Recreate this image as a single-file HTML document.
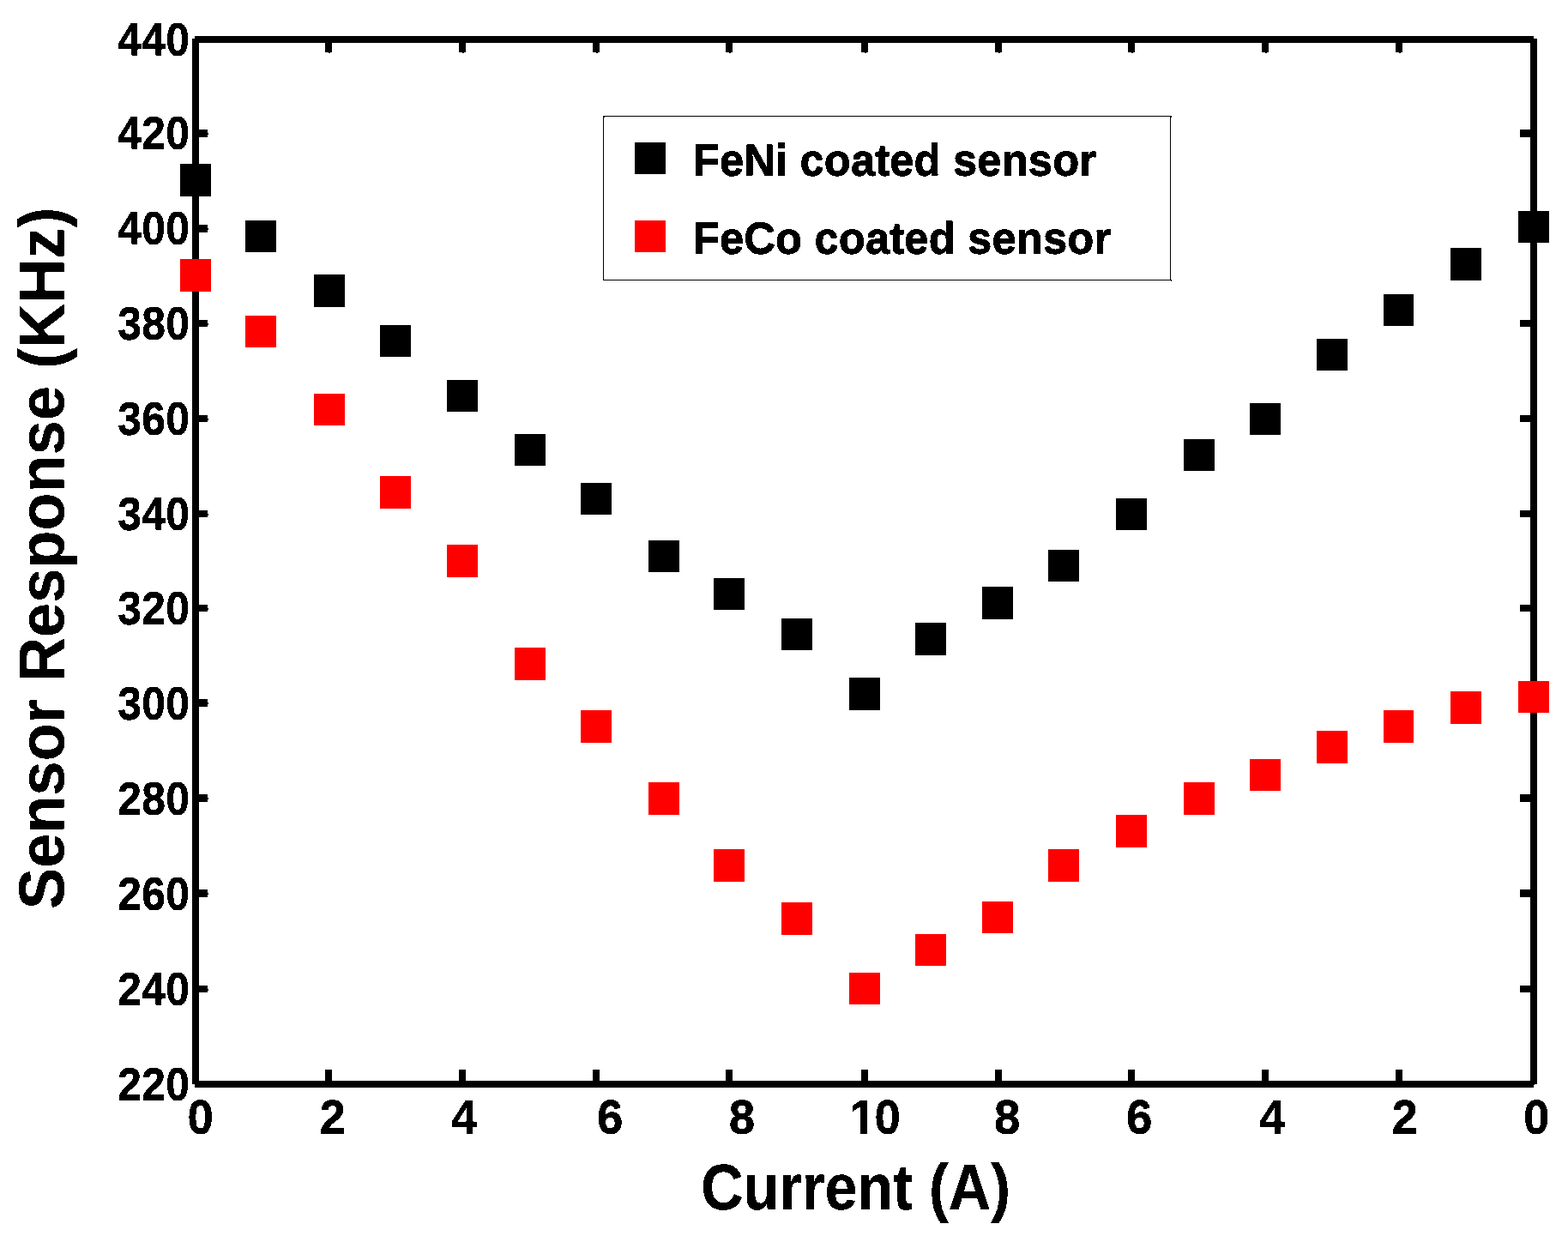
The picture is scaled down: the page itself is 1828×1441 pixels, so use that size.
<!DOCTYPE html>
<html lang="en"><head><meta charset="utf-8">
<title>Sensor Response vs Current</title>
<style>
html,body{margin:0;padding:0;background:#fff;}
body{width:1828px;height:1441px;}
svg{display:block;}
text{font-family:"Liberation Sans",sans-serif;font-weight:bold;font-size:1000px;fill:#000;stroke:#000;stroke-linejoin:miter;font-kerning:none;text-rendering:geometricPrecision;}
</style></head><body>
<svg width="1828" height="1441" viewBox="0 0 1828 1441">
<rect x="0" y="0" width="1828" height="1441" fill="#fff"/>
<defs>
<filter id="bilevel" filterUnits="userSpaceOnUse" x="0" y="0" width="1828" height="1441" color-interpolation-filters="sRGB"><feComponentTransfer><feFuncA type="discrete" tableValues="0 1"/></feComponentTransfer></filter>
<filter id="bilevelv" filterUnits="userSpaceOnUse" x="0" y="0" width="1828" height="1441" color-interpolation-filters="sRGB"><feOffset in="SourceGraphic" dy="1" result="o"/><feMerge result="m"><feMergeNode in="SourceGraphic"/><feMergeNode in="o"/></feMerge><feComponentTransfer><feFuncA type="discrete" tableValues="0 1"/></feComponentTransfer></filter>
</defs>
<g fill="#000" shape-rendering="crispEdges">
<rect x="224" y="45" width="8" height="1219"/>
<rect x="1784" y="45" width="8" height="1219"/>
<rect x="227" y="42" width="1561" height="8"/>
<rect x="227" y="1260" width="1561" height="8"/>
<rect x="1788" y="1264" width="1" height="1"/>
<rect x="379" y="50" width="8" height="11"/>
<rect x="383" y="61" width="2" height="1"/>
<rect x="379" y="1247" width="8" height="13"/>
<rect x="535" y="50" width="8" height="11"/>
<rect x="539" y="61" width="2" height="1"/>
<rect x="535" y="1247" width="8" height="13"/>
<rect x="691" y="50" width="8" height="11"/>
<rect x="695" y="61" width="2" height="1"/>
<rect x="691" y="1247" width="8" height="13"/>
<rect x="846" y="50" width="8" height="11"/>
<rect x="850" y="61" width="2" height="1"/>
<rect x="846" y="1247" width="8" height="13"/>
<rect x="1004" y="50" width="8" height="11"/>
<rect x="1008" y="61" width="2" height="1"/>
<rect x="1004" y="1247" width="8" height="13"/>
<rect x="1160" y="50" width="8" height="11"/>
<rect x="1164" y="61" width="2" height="1"/>
<rect x="1160" y="1247" width="8" height="13"/>
<rect x="1315" y="50" width="8" height="11"/>
<rect x="1319" y="61" width="2" height="1"/>
<rect x="1315" y="1247" width="8" height="13"/>
<rect x="1471" y="50" width="8" height="11"/>
<rect x="1475" y="61" width="2" height="1"/>
<rect x="1471" y="1247" width="8" height="13"/>
<rect x="1627" y="50" width="8" height="11"/>
<rect x="1631" y="61" width="2" height="1"/>
<rect x="1627" y="1247" width="8" height="13"/>
<rect x="232" y="151" width="10" height="9"/>
<rect x="242" y="155" width="1" height="2"/>
<rect x="1772" y="151" width="12" height="9"/>
<rect x="232" y="262" width="10" height="9"/>
<rect x="242" y="266" width="1" height="2"/>
<rect x="1772" y="262" width="12" height="9"/>
<rect x="232" y="373" width="10" height="8"/>
<rect x="242" y="377" width="1" height="2"/>
<rect x="1772" y="373" width="12" height="8"/>
<rect x="232" y="484" width="10" height="8"/>
<rect x="242" y="488" width="1" height="2"/>
<rect x="1772" y="484" width="12" height="8"/>
<rect x="232" y="595" width="10" height="8"/>
<rect x="242" y="599" width="1" height="2"/>
<rect x="1772" y="595" width="12" height="8"/>
<rect x="232" y="705" width="10" height="8"/>
<rect x="242" y="709" width="1" height="2"/>
<rect x="1772" y="705" width="12" height="8"/>
<rect x="232" y="815" width="10" height="9"/>
<rect x="242" y="819" width="1" height="2"/>
<rect x="1772" y="815" width="12" height="9"/>
<rect x="232" y="926" width="10" height="9"/>
<rect x="242" y="930" width="1" height="2"/>
<rect x="1772" y="926" width="12" height="9"/>
<rect x="232" y="1037" width="10" height="9"/>
<rect x="242" y="1041" width="1" height="2"/>
<rect x="1772" y="1037" width="12" height="9"/>
<rect x="232" y="1149" width="10" height="8"/>
<rect x="242" y="1153" width="1" height="2"/>
<rect x="1772" y="1149" width="12" height="8"/>
</g>
<g fill="#000" shape-rendering="crispEdges">
<rect x="210" y="191" width="36" height="38"/>
<rect x="286" y="257" width="36" height="37"/>
<rect x="366" y="320" width="36" height="38"/>
<rect x="443" y="379" width="36" height="37"/>
<rect x="521" y="443" width="36" height="37"/>
<rect x="600" y="506" width="36" height="37"/>
<rect x="677" y="563" width="36" height="37"/>
<rect x="756" y="630" width="36" height="37"/>
<rect x="832" y="674" width="36" height="37"/>
<rect x="911" y="721" width="36" height="37"/>
<rect x="990" y="790" width="36" height="38"/>
<rect x="1067" y="726" width="36" height="38"/>
<rect x="1145" y="684" width="36" height="38"/>
<rect x="1222" y="641" width="36" height="37"/>
<rect x="1301" y="581" width="36" height="37"/>
<rect x="1380" y="512" width="36" height="37"/>
<rect x="1457" y="470" width="36" height="37"/>
<rect x="1535" y="395" width="36" height="37"/>
<rect x="1613" y="343" width="35" height="37"/>
<rect x="1691" y="289" width="36" height="38"/>
<rect x="1770" y="246" width="36" height="37"/>
</g>
<g fill="#ff0000" shape-rendering="crispEdges">
<rect x="210" y="302" width="36" height="38"/>
<rect x="286" y="368" width="36" height="37"/>
<rect x="366" y="459" width="36" height="37"/>
<rect x="443" y="555" width="36" height="38"/>
<rect x="521" y="635" width="36" height="38"/>
<rect x="600" y="755" width="36" height="38"/>
<rect x="677" y="828" width="36" height="38"/>
<rect x="756" y="912" width="36" height="38"/>
<rect x="832" y="990" width="36" height="38"/>
<rect x="911" y="1052" width="36" height="38"/>
<rect x="990" y="1134" width="36" height="37"/>
<rect x="1067" y="1089" width="36" height="37"/>
<rect x="1145" y="1051" width="36" height="37"/>
<rect x="1222" y="990" width="36" height="38"/>
<rect x="1301" y="950" width="36" height="38"/>
<rect x="1380" y="912" width="36" height="38"/>
<rect x="1457" y="885" width="36" height="37"/>
<rect x="1535" y="852" width="36" height="38"/>
<rect x="1613" y="828" width="35" height="38"/>
<rect x="1691" y="806" width="36" height="38"/>
<rect x="1770" y="794" width="36" height="37"/>
</g>
<rect x="703.5" y="135.5" width="661" height="191" fill="#fff" stroke="#000" stroke-width="1" shape-rendering="crispEdges"/>
<g fill="#000" shape-rendering="crispEdges"><rect x="704" y="136" width="1" height="1"/><rect x="1365" y="135" width="1" height="2"/><rect x="1365" y="326" width="1" height="2"/></g>
<rect x="740" y="166" width="36" height="37" fill="#000" shape-rendering="crispEdges"/>
<rect x="740" y="257" width="36" height="37" fill="#ff0000" shape-rendering="crispEdges"/>
<g filter="url(#bilevelv)">
<text transform="matrix(0.05099 0 0 0.05189 807.739 203.850)" stroke-width="5.832">FeNi coated sensor</text>
<text transform="matrix(0.05101 0 0 0.05189 807.738 294.850)" stroke-width="5.831">FeCo coated sensor</text>
<text transform="matrix(0.05020 0 0 0.05378 137.300 64.000)" stroke="none">440</text>
<text transform="matrix(0.05020 0 0 0.05378 137.300 173.000)" stroke="none">420</text>
<text transform="matrix(0.05020 0 0 0.05378 137.300 284.000)" stroke="none">400</text>
<text transform="matrix(0.05020 0 0 0.05378 137.300 395.000)" stroke="none">380</text>
<text transform="matrix(0.05020 0 0 0.05378 137.300 506.000)" stroke="none">360</text>
<text transform="matrix(0.05020 0 0 0.05378 137.300 617.000)" stroke="none">340</text>
<text transform="matrix(0.05020 0 0 0.05378 137.300 727.000)" stroke="none">320</text>
<text transform="matrix(0.05020 0 0 0.05378 137.300 838.000)" stroke="none">300</text>
<text transform="matrix(0.05020 0 0 0.05378 137.300 949.000)" stroke="none">280</text>
<text transform="matrix(0.05020 0 0 0.05378 137.300 1060.000)" stroke="none">260</text>
<text transform="matrix(0.05020 0 0 0.05378 137.300 1171.000)" stroke="none">240</text>
<text transform="matrix(0.05020 0 0 0.05378 137.300 1282.000)" stroke="none">220</text>
<text transform="matrix(0.05430 0 0 0.05523 218.540 1321.000)" stroke="none">0</text>
<text transform="matrix(0.05430 0 0 0.05523 372.496 1321.000)" stroke="none">2</text>
<text transform="matrix(0.05430 0 0 0.05523 525.985 1321.000)" stroke="none">4</text>
<text transform="matrix(0.05430 0 0 0.05523 695.987 1321.000)" stroke="none">6</text>
<text transform="matrix(0.05430 0 0 0.05523 849.874 1321.000)" stroke="none">8</text>
<text x="18.4 556.2" transform="matrix(0.05430 0 0 0.05523 989.304 1321.000)" stroke="none">10</text>
<text transform="matrix(0.05430 0 0 0.05523 1158.974 1321.000)" stroke="none">8</text>
<text transform="matrix(0.05430 0 0 0.05523 1312.987 1321.000)" stroke="none">6</text>
<text transform="matrix(0.05430 0 0 0.05523 1468.035 1321.000)" stroke="none">4</text>
<text transform="matrix(0.05430 0 0 0.05523 1622.546 1321.000)" stroke="none">2</text>
<text transform="matrix(0.05430 0 0 0.05523 1776.090 1321.000)" stroke="none">0</text>
</g>
<g filter="url(#bilevel)">
<text transform="matrix(0.06837 0 0 0.07515 817.146 1409.850)" stroke-width="4.185">Current (A)</text>
<text transform="matrix(0 -0.07221 0.07515 0 74.850 1060.030)" stroke-width="4.072">Sensor Response (KHz)</text>
</g>
<g fill="#fff" shape-rendering="crispEdges"><rect x="990" y="1313" width="13" height="11"/><rect x="1011" y="1313" width="10" height="11"/></g>
</svg>
</body></html>
